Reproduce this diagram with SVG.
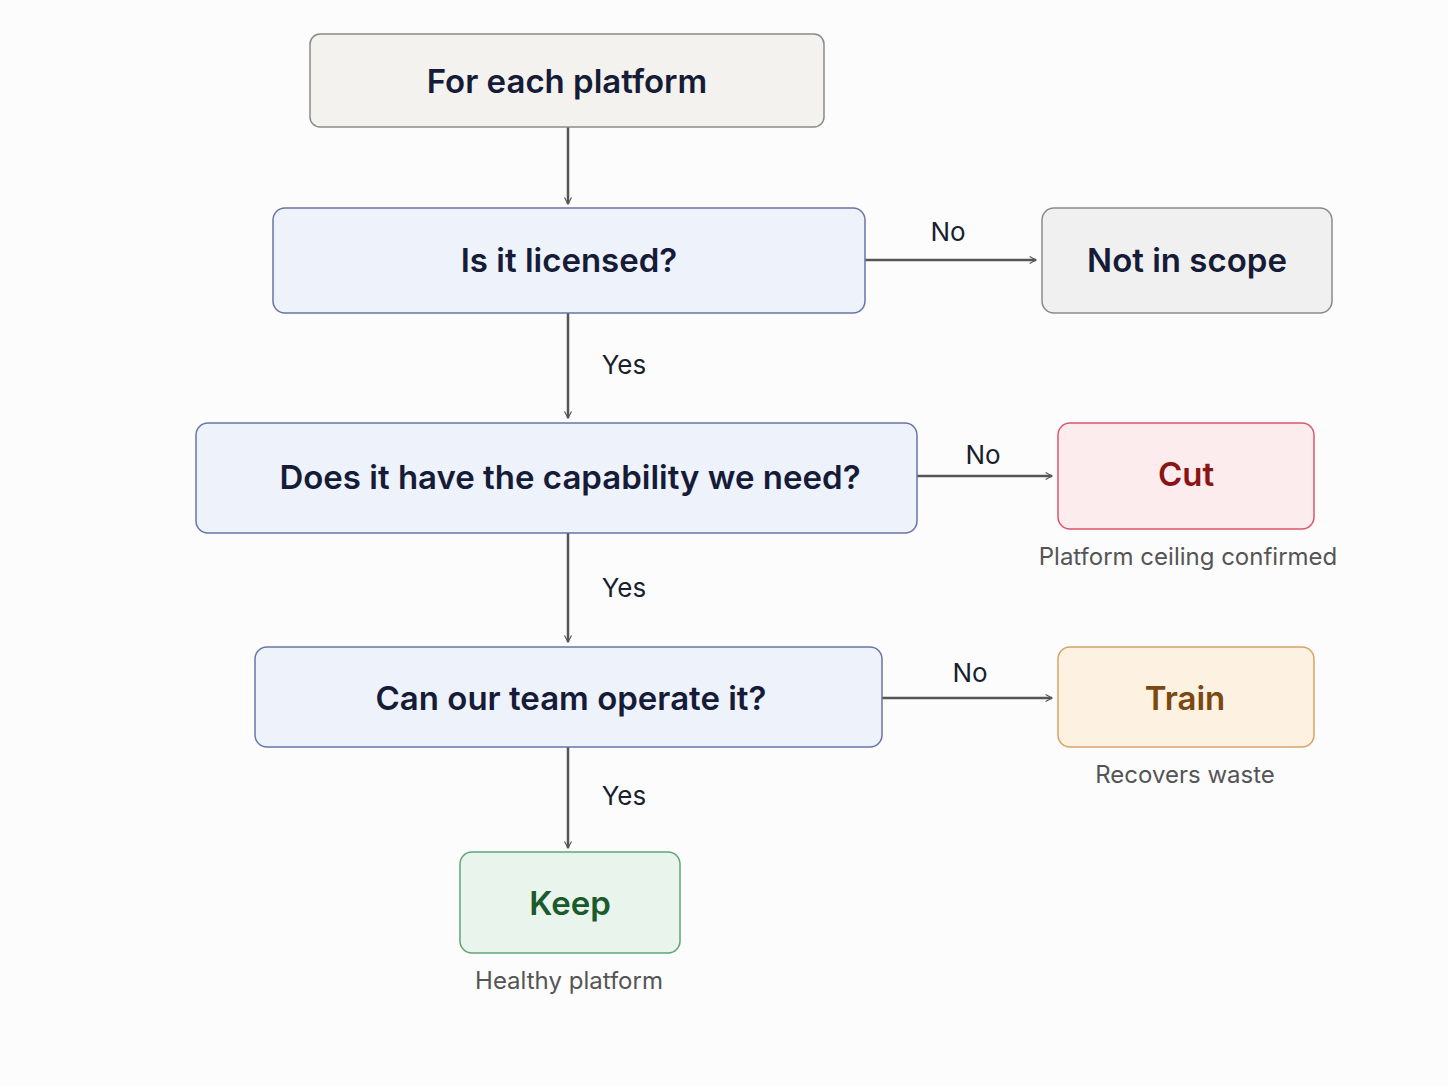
<svg xmlns="http://www.w3.org/2000/svg" width="1448" height="1086" viewBox="0 0 1448 1086">
<style>
.t{font-family:Inter,"Noto Sans",sans-serif;font-weight:600;font-size:33px;text-anchor:middle;dominant-baseline:central}
.q{fill:#eef2fb;stroke:#6a74a8;stroke-width:1.5}
.l{font-family:Inter,"Noto Sans",sans-serif;font-size:26px;fill:#1a1f2e;text-anchor:middle;dominant-baseline:central}
.s{font-family:Inter,"Noto Sans",sans-serif;font-size:24px;fill:#555;text-anchor:middle;dominant-baseline:central}
.c{stroke:#555;stroke-width:2.5;fill:none;marker-end:url(#a)}
</style>
<defs><marker id="a" viewBox="0 0 12 12" refX="11" refY="6" markerWidth="7" markerHeight="7" markerUnits="userSpaceOnUse" orient="auto" style="overflow:visible"><path d="M0,0 L11,6 L0,12" fill="none" stroke="#555" stroke-width="2"/></marker></defs>
<rect width="1448" height="1086" fill="#fcfcfc"/>
<g id="connectors">
<path class="c" d="M568,127V204"/>
<path class="c" d="M865,260H1036"/>
<path class="c" d="M568,313V418"/>
<path class="c" d="M917,476H1052"/>
<path class="c" d="M568,533V642"/>
<path class="c" d="M882,698H1052"/>
<path class="c" d="M568,747V848"/>
<text class="l" x="948" y="231">No</text>
<text class="l" x="624" y="364">Yes</text>
<text class="l" x="983" y="454">No</text>
<text class="l" x="624" y="587">Yes</text>
<text class="l" x="970" y="672">No</text>
<text class="l" x="624" y="795">Yes</text>
</g>
<g id="start"><rect x="310" y="34" width="514" height="93" rx="10" fill="#f3f2ee" stroke="#8a8a8a" stroke-width="1.5"/><text class="t" x="567" y="81" fill="#161c38">For each platform</text></g>
<g id="q1"><rect class="q" x="273" y="208" width="592" height="105" rx="12"/><text class="t" x="569" y="260" fill="#161c38">Is it licensed?</text></g>
<g id="scope"><rect x="1042" y="208" width="290" height="105" rx="12" fill="#f0f0f0" stroke="#8a8a8a" stroke-width="1.5"/><text class="t" x="1187" y="260" fill="#161c38">Not in scope</text></g>
<g id="q2"><rect class="q" x="196" y="423" width="721" height="110" rx="12"/><text class="t" x="570" y="477" fill="#161c38">Does it have the capability we need?</text></g>
<g id="cut"><rect x="1058" y="423" width="256" height="106" rx="12" fill="#fdeced" stroke="#d9576a" stroke-width="1.5"/><text class="t" x="1186" y="474" fill="#8b1414">Cut</text><text class="s" x="1188" y="556">Platform ceiling confirmed</text></g>
<g id="q3"><rect class="q" x="255" y="647" width="627" height="100" rx="12"/><text class="t" x="571" y="698" fill="#161c38">Can our team operate it?</text></g>
<g id="train"><rect x="1058" y="647" width="256" height="100" rx="12" fill="#fdf1e2" stroke="#d8a266" stroke-width="1.5"/><text class="t" x="1185" y="698" fill="#7a4810">Train</text><text class="s" x="1185" y="774">Recovers waste</text></g>
<g id="keep"><rect x="460" y="852" width="220" height="101" rx="12" fill="#e9f5ec" stroke="#5ea574" stroke-width="1.5"/><text class="t" x="570" y="903" fill="#1b5a2c">Keep</text><text class="s" x="569" y="980">Healthy platform</text></g>
</svg>
